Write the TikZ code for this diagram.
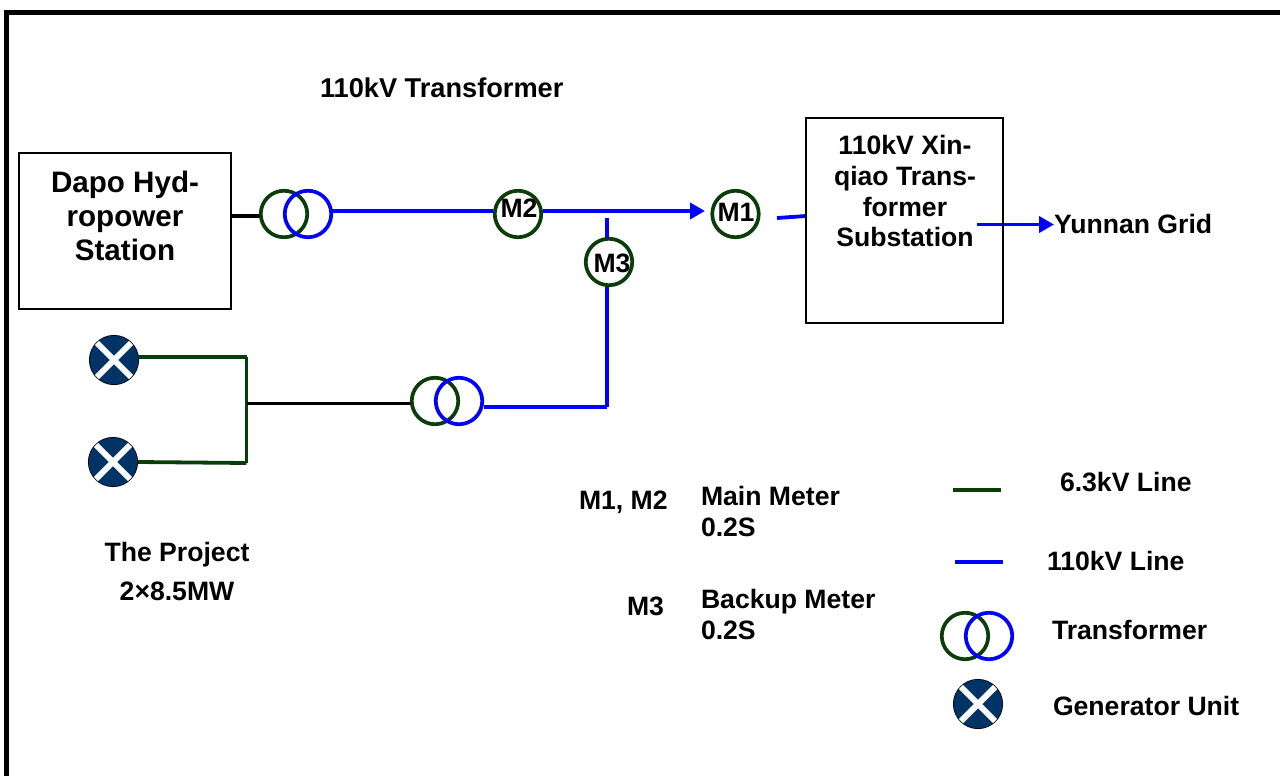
\documentclass[tikz,border=0pt]{standalone}
\usepackage{fontspec}
\setmainfont{Liberation Sans}
\usetikzlibrary{arrows.meta}
\definecolor{lvgreen}{HTML}{0B3D0B}
\definecolor{hvblue}{HTML}{0000FF}
\definecolor{gennavy}{HTML}{003366}
\newcommand{\txtsize}{\fontsize{26.6}{31}\selectfont\bfseries}
\newcommand{\bigsize}{\fontsize{29.6}{34}\selectfont\bfseries}
\tikzset{
  lbl/.style={anchor=base west,inner sep=0pt,outer sep=0pt,font=\txtsize},
  lblc/.style={anchor=base,inner sep=0pt,outer sep=0pt,font=\txtsize},
  boxnode/.style={draw=black,line width=1.8pt,inner sep=0pt,outer sep=0pt,anchor=north west},
  lvline/.style={draw=lvgreen,line width=3.8pt},
  hvline/.style={draw=hvblue,line width=3.8pt},
  blkline/.style={draw=black,line width=3.6pt},
  harrow/.style={hvline,-{Triangle[length=15pt,width=16pt]}},
  ringg/.style={circle,draw=lvgreen,line width=3.7pt,minimum size=46.5pt,inner sep=0pt,outer sep=0pt},
  ringb/.style={circle,draw=hvblue,line width=3.7pt,minimum size=46.5pt,inner sep=0pt,outer sep=0pt},
  gensym/.style={circle,preaction={draw=black,line width=1.6pt},fill=gennavy,minimum size=48.5pt,inner sep=0pt,outer sep=0pt,
    path picture={\draw[white,line width=6pt] (path picture bounding box.north west)--(path picture bounding box.south east)
      (path picture bounding box.north east)--(path picture bounding box.south west);}}
}
\begin{document}
\begin{tikzpicture}[x=1pt,y=-1pt]
\useasboundingbox (0,0) rectangle (1280,776);
\coordinate (fa) at (6.5,776);
\coordinate (fb) at (6.5,12.5);
\coordinate (fc) at (1280,12.5);
\draw[black,line width=4.2pt,line join=miter] (fa)--(fb)--(fc);

% transformers
\node[ringg] (t1g) at (284,214) {};
\node[ringb] (t1b) at (308,214) {};
\node[ringg] (t2g) at (435,401) {};
\node[ringb] (t2b) at (459,401) {};

% meters
\node[ringg] (m2) at (518,214) {};
\node[ringg] (m1) at (735.5,214) {};
\node[ringg] (m3) at (609,262) {};
\node[lblc] (m2t) at (519,217) {M2};
\node[lblc] (m1t) at (736,221) {M1};
\node[lblc] (m3t) at (612,272) {M3};

% generators
\node[gensym] (g1) at (114,360) {};
\node[gensym] (g2) at (113,462) {};

% connectors
\coordinate (dapoout) at (231,216);
\coordinate (t1gin) at (260,216);
\coordinate (t1out) at (332,211);
\coordinate (m2in) at (493,211);
\coordinate (m2out) at (543,211);
\coordinate (m1arr) at (705,211);
\coordinate (tap) at (607,218);
\coordinate (m3up) at (607,238);
\coordinate (m3dn) at (607,287);
\coordinate (cnr) at (607,407);
\coordinate (t2out) at (484,407);
\coordinate (m1o) at (777,218);
\coordinate (xinl) at (806,216);
\coordinate (xo) at (977,224.5);
\coordinate (yg) at (1054,224.5);
\coordinate (g1o) at (138,357);
\coordinate (g2o) at (138,462);
\coordinate (bus1) at (246.5,357);
\coordinate (bus2) at (246.5,463);
\coordinate (busm) at (246.5,403.5);
\coordinate (t2gin) at (411,403.5);

\draw[blkline] (dapoout)--(t1gin);
\draw[hvline] (t1out)--(m2in);
\draw[harrow] (m2out)--(m1arr);
\draw[hvline] (tap)--(m3up);
\draw[hvline] (m3dn)--(cnr);
\draw[hvline] (t2out)--(cnr);
\draw[hvline] (m1o)--(xinl);
\draw[harrow] (xo)--(yg);
\draw[lvline] (g1o)--(bus1);
\draw[lvline] (g2o)--(bus2);
\draw[lvline] (bus1)--(bus2);
\draw[blkline] (busm)--(t2gin);

% boxes
\node[boxnode,minimum width=212pt,minimum height=156pt] (dapo) at (19,153) {};
\node[boxnode,minimum width=197pt,minimum height=205pt] (xin) at (806,118) {};
\node[anchor=base,font=\bigsize,inner sep=0pt] (d1) at (125,192) {Dapo Hyd-};
\node[anchor=base,font=\bigsize,inner sep=0pt] (d2) at (125,226) {ropower};
\node[anchor=base,font=\bigsize,inner sep=0pt] (d3) at (125,260) {Station};
\node[lblc] (x1) at (905,154) {110kV Xin-};
\node[lblc] (x2) at (905,185) {qiao Trans-};
\node[lblc] (x3) at (905,216) {former};
\node[lblc] (x4) at (905,246) {Substation};

% labels
\node[lbl] (title) at (320,98) {\fontsize{27.2}{31}\selectfont 110kV Transformer};
\node[lbl] (yunnan) at (1054,233) {Yunnan Grid};
\node[lblc] (proj) at (177,561) {The Project};
\node[lblc] (cap) at (177,600) {2×8.5MW};
\node[lbl] (ml1) at (579,509) {M1, M2};
\node[lbl] (ml2) at (701,505) {Main Meter};
\node[lbl] (ml3) at (701,536) {0.2S};
\node[lbl] (ml4) at (627,615) {M3};
\node[lbl] (ml5) at (701,608) {Backup Meter};
\node[lbl] (ml6) at (701,639) {0.2S};

% legend
\coordinate (lga) at (953,490);
\coordinate (lgb) at (1001,490);
\coordinate (lba) at (955,562);
\coordinate (lbb) at (1003,562);
\draw[lvline] (lga)--(lgb);
\draw[hvline] (lba)--(lbb);
\node[ringg] (ltg) at (965,636) {};
\node[ringb] (ltb) at (989,636) {};
\node[gensym] (lgen) at (978,704) {};
\node[lbl] (l1) at (1060,491) {6.3kV Line};
\node[lbl] (l2) at (1047,570) {110kV Line};
\node[lbl] (l3) at (1052,639) {Transformer};
\node[lbl] (l4) at (1053,715) {Generator Unit};
\end{tikzpicture}
\end{document}
